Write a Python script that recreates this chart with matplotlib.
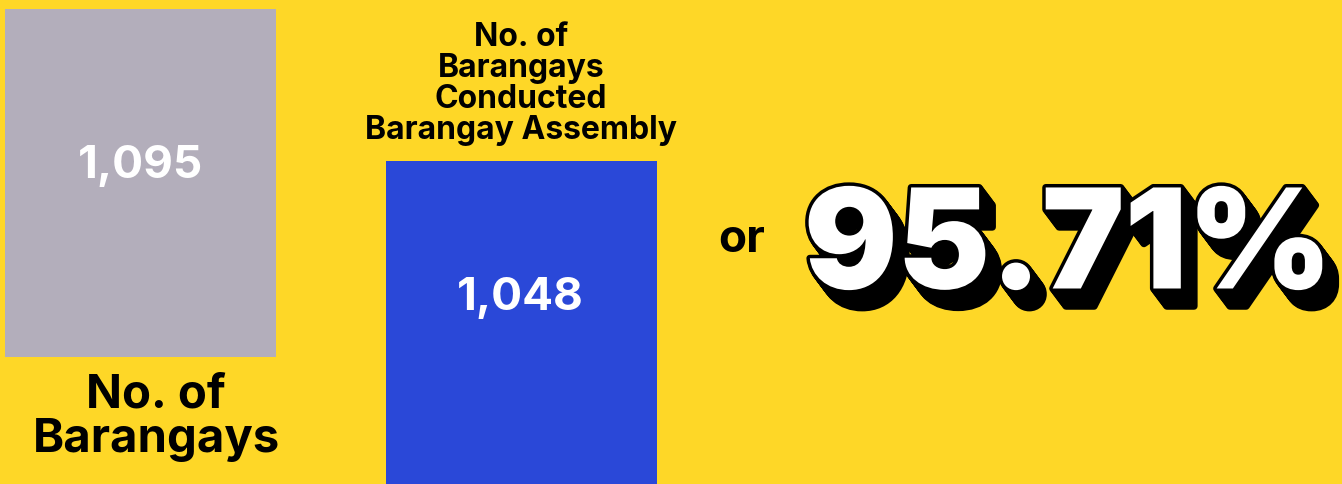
import matplotlib.pyplot as plt
import matplotlib.patheffects as pe

categories = ["No. of\nBarangays", "No. of\nBarangays\nConducted\nBarangay Assembly"]
values = [1095, 1048]
value_labels = ["1,095", "1,048"]
percent_label = "95.71%"

BG = "#FED727"
bar_colors = ["#B3AEBB", "#2A48D8"]

W, H = 1342, 484
fig = plt.figure(figsize=(W / 100, H / 100), dpi=100, facecolor=BG)
ax = fig.add_axes([0, 0, 1, 1])
ax.set_facecolor(BG)
ax.set_xlim(0, W)
ax.set_ylim(0, 1523)
ax.axis("off")

# bars sit on different baselines in the original layout
ax.bar([140.5, 521.5], values, width=271, bottom=[400, -31],
       color=bar_colors, linewidth=0)

font = ["Inter", "DejaVu Sans"]


def px(x, y):
    return x / W, 1 - y / H


fig.text(*px(140, 166), value_labels[0], color="white", fontsize=33,
         fontweight="bold", family=font, ha="center", va="center")
fig.text(*px(520, 298), value_labels[1], color="white", fontsize=33,
         fontweight="bold", family=font, ha="center", va="center")

fig.text(*px(156, 418), categories[0], color="black", fontsize=34,
         fontweight="bold", family=font, ha="center", va="center",
         linespacing=1.0)
fig.text(*px(521, 84), categories[1], color="black", fontsize=23,
         fontweight="bold", family=font, ha="center", va="center",
         linespacing=1.0)

fig.text(*px(742, 240), "or", color="black", fontsize=33,
         fontweight="bold", family=font, ha="center", va="center")

# big percentage with a black extruded shadow
shadow = [pe.Stroke(linewidth=5, foreground="black", offset=(i * 0.6, -i * 0.8))
          for i in range(16, 0, -1)]
fig.text(*px(1068, 252), percent_label, color="white", fontsize=100,
         fontweight="black", family=font, ha="center", va="center",
         path_effects=shadow + [pe.Stroke(linewidth=5, foreground="black"),
                                pe.Normal()])

fig.savefig("out.png", dpi=100, facecolor=BG)
